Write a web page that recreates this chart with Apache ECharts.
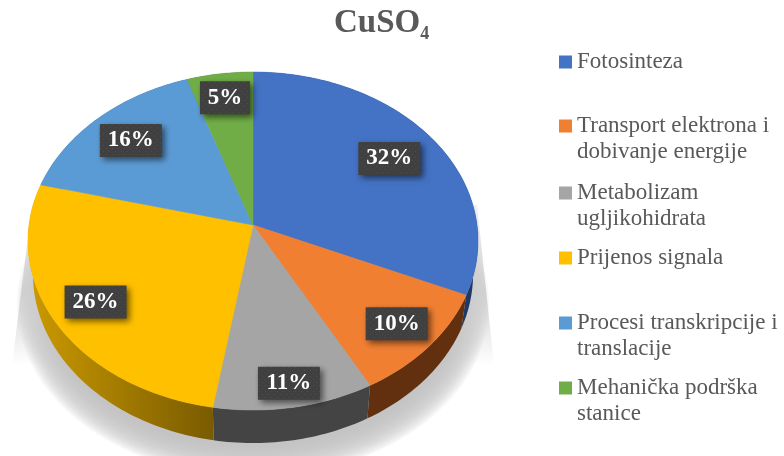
<!DOCTYPE html>
<html><head><meta charset="utf-8">
<style>html,body{margin:0;padding:0;background:#fff}#c{width:784px;height:456px}</style>
<script src="https://cdn.jsdelivr.net/npm/echarts@6/dist/echarts.min.js"></script>
</head><body><div id="c"></div>
<script>
const categories = ['Fotosinteza','Transport elektrona i\ndobivanje energije','Metabolizam\nugljikohidrata','Prijenos signala','Procesi transkripcije i\ntranslacije','Mehanička podrška\nstanice'];
// shares read from the slice boundaries; they round to the printed percentages
const values = [31.6,10.45,10.55,26.35,15.85,5.2];
const colors = ['#4472C4','#F07F32','#A5A5A5','#FFC000','#5B9BD5','#70AD47'];
const titleBase = 'CuSO';
const titleSub = '4';

// layout (perspective view of the pie)
const CX=253, APEX=225, R=224, A=146.2, C=-0.0947, DEPTH=33, BOTTOM_SCALE=0.978;
const labelR=[.755,.825,.88,.805,.78,.83];
const legendY=[62,126,193,258,323,388];
const wallFill=[
  '#1F3864','#63300F','#444444',
  {type:'linear',x:0,y:0,x2:1,y2:0,global:false,colorStops:[{offset:0,color:'#CC9A00'},{offset:1,color:'#795B00'}]},
  '#2E5C8A','#3F6427'];
const total=values.reduce((a,b)=>a+b,0);
function proj(theta,r,bottom){
  const x=Math.sin(theta)*r, y=-Math.cos(theta)*r, d=1+C*y;
  const k=bottom?BOTTOM_SCALE:1;
  return [CX+k*R*x/d, (APEX+A*y)/d+(bottom?DEPTH:0)];
}
function arc(a0,a1,r,bottom){
  const n=Math.max(2,Math.ceil((a1-a0)/0.02)),p=[];
  for(let i=0;i<=n;i++)p.push(proj(a0+(a1-a0)*i/n,r,bottom));
  return p;
}
const tex=document.createElement('canvas');tex.width=tex.height=6;
(function(){const g=tex.getContext('2d');g.fillStyle='#404040';g.fillRect(0,0,6,6);g.fillStyle='#4d4d4d';g.fillRect(1,1,1,1);g.fillRect(4,4,1,1);})();

function sliceRender(idx){
  return function(params,api){
    const v=api.value(0);
    const before=values.slice(0,idx).reduce((a,b)=>a+b,0);
    const a0=before/total*2*Math.PI, a1=a0+v/total*2*Math.PI, m=(a0+a1)/2;
    const top=arc(a0,a1,1,false);
    const low=arc(a0,a1,1,true).reverse();
    const c=proj(m,labelR[idx],false);
    const txt=Math.round(v/total*100)+'%', w=26+12*txt.length;
    return {type:'group',children:[
      {type:'polygon',z2:1,shape:{points:top.concat(low)},style:{fill:wallFill[idx]}},
      {type:'polygon',z2:2,shape:{points:[[CX,APEX]].concat(top)},style:{fill:colors[idx],stroke:colors[idx],lineWidth:.5}},
      {type:'rect',z2:3,shape:{x:c[0]-w/2,y:c[1]-16.5,width:w,height:33},
        style:{fill:{image:tex,repeat:'repeat'},shadowBlur:6,shadowOffsetX:3,shadowOffsetY:3,shadowColor:'rgba(0,0,0,.55)'}},
      {type:'text',z2:4,x:c[0],y:c[1],style:{text:txt,fill:'#fff',align:'center',verticalAlign:'middle',font:'bold 23px "Liberation Serif"'}}
    ]};
  };
}
function wedge(pts){
  return {type:'polygon',shape:{points:pts},style:{fill:{type:'linear',x:0,y:0,x2:0,y2:1,global:false,colorStops:[
    {offset:0,color:'rgba(205,205,205,.3)'},{offset:.55,color:'rgba(205,205,205,.9)'},{offset:1,color:'rgba(205,205,205,0)'}]}}};
}
const series=[{
  type:'custom',name:'shadow',coordinateSystem:'none',silent:true,data:[[total]],z:1,
  renderItem(){
    const rings=[];
    for(let k=0;k<18;k++){
      const f=k/17, rx=236-30*f, ry=172-30*f, p=[];
      for(let i=0;i<180;i++){const t=i/180*2*Math.PI;p.push([CX+rx*Math.sin(t),305-ry*Math.cos(t)]);}
      rings.push({type:'polygon',shape:{points:p},style:{fill:'rgba(190,190,190,.13)'}});
    }
    rings.push(wedge([[32,205],[12,365],[60,365],[60,205]]));
    rings.push(wedge([[477,205],[494,365],[450,365],[450,205]]));
    return {type:'group',children:rings};
  }
}];
categories.forEach((n,i)=>series.push({
  type:'custom',name:n,coordinateSystem:'none',data:[[values[i]]],z:2,
  itemStyle:{color:colors[i]},renderItem:sliceRender(i)
}));
const FS=23, LH=26;
const legends=categories.map((n,i)=>{
  const multi=n.includes('\n');
  return {
    data:[n],left:559,top:legendY[i]-(multi?LH*1.5:LH/2),orient:'vertical',padding:0,
    itemWidth:13,itemHeight:13,icon:'rect',selectedMode:false,
    formatter:s=>multi?'\n'+s:s,
    textStyle:{fontFamily:'Liberation Serif',fontSize:FS,lineHeight:LH,color:'#595959'}
  };
});
const chart=echarts.init(document.getElementById('c'),null,{renderer:'canvas'});
chart.setOption({
  animation:false,backgroundColor:'#fff',
  title:{text:`{a|${titleBase}}{b|${titleSub}}`,left:334,top:3,padding:0,
    textStyle:{rich:{
      a:{fontFamily:'Liberation Serif',fontWeight:'bold',fontSize:33,color:'#595959',lineHeight:40},
      b:{fontFamily:'Liberation Serif',fontWeight:'bold',fontSize:18,color:'#595959',verticalAlign:'bottom',lineHeight:34}
    }}},
  legend:legends,
  series
});
</script></body></html>
